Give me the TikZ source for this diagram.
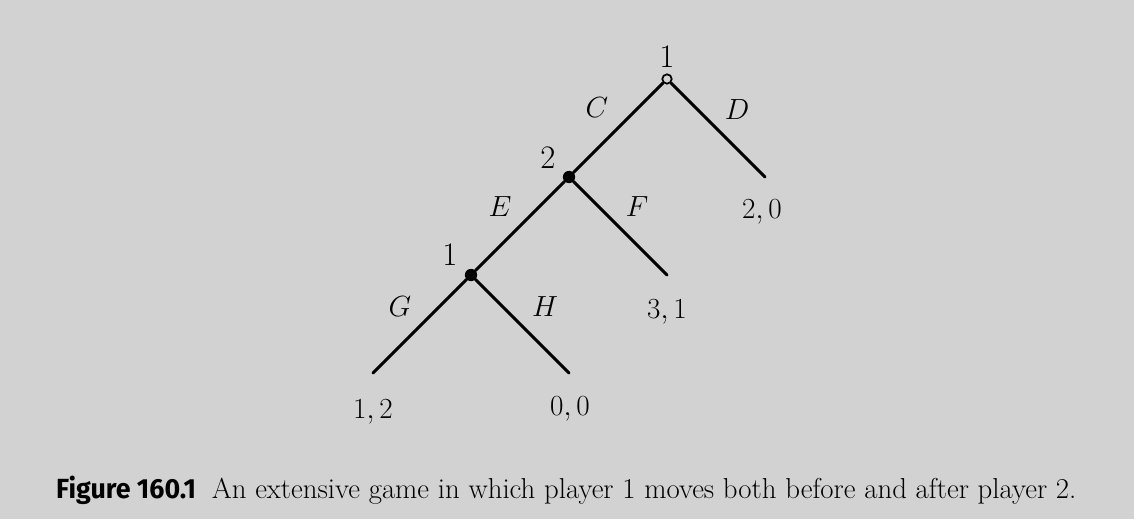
\documentclass[tikz,border=0pt]{standalone}
\usepackage{fontspec}
\newfontfamily\labelfont{Fira Sans}
\usetikzlibrary{positioning}
\definecolor{scangray}{RGB}{210,210,210}
\tikzset{
	branch/.style={line width=2.5pt, line cap=round},
	decision/.style={circle, fill=black, inner sep=0pt, minimum size=10.5pt},
	initial/.style={circle, draw=black, fill=scangray, line width=1.5pt, inner sep=0pt, minimum size=8pt},
	payoff/.style={font=\fontsize{28}{32}\selectfont, inner sep=0pt},
	action/.style={font=\fontsize{29}{32}\selectfont, inner sep=0pt},
}

\begin{document}
\begin{tikzpicture}[x=0.03cm, y=0.03cm]
		%%%%% START %%%%%
		
		\fill[scangray] (0, 0) rectangle (1134, 519);
		\useasboundingbox (0, 0) rectangle (1134, 519);
		
		% decision nodes
		\node[initial] (root) at (667, 440) {};
		\node[decision] (two) at (569, 342) {};
		\node[decision] (one) at (471, 244) {};
		
		% terminal histories
		\coordinate (endD) at (765, 342);
		\coordinate (endF) at (667, 244);
		\coordinate (endG) at (373, 146);
		\coordinate (endH) at (569, 146);
		
		\draw[branch] (root) -- (two);
		\draw[branch] (root) -- (endD);
		\draw[branch] (two) -- (one);
		\draw[branch] (two) -- (endF);
		\draw[branch] (one) -- (endG);
		\draw[branch] (one) -- (endH);
		
		% players
		\node[payoff] (pl1) at (667, 462) {1};
		\node[payoff] (pl2) at (548, 361) {2};
		\node[payoff] (pl3) at (450, 264) {1};
		
		% actions
		\node[action] (actC) at (597, 411) {$C$};
		\node[action] (actD) at (737, 409) {$D$};
		\node[action] (actE) at (500, 312) {$E$};
		\node[action] (actF) at (637, 312) {$F$};
		\node[action] (actG) at (400, 212) {$G$};
		\node[action] (actH) at (545, 212) {$H$};
		
		% payoffs
		\node[payoff] (payD) at (762, 307) {$2,0$};
		\node[payoff] (payF) at (667, 207) {$3,1$};
		\node[payoff] (payG) at (373, 107) {$1,2$};
		\node[payoff] (payH) at (570, 110) {$0,0$};
		
		\node[anchor=base west, inner sep=0pt, font=\fontsize{24.6}{28}\selectfont] (caption) at (56, 21)
			{\scalebox{0.93}[0.96]{\labelfont\bfseries Figure 160.1}\hspace{0.55em}An extensive game in which player 1 moves both before and after player 2.};
		
		%%%%% END %%%%%
\end{tikzpicture}
\end{document}
